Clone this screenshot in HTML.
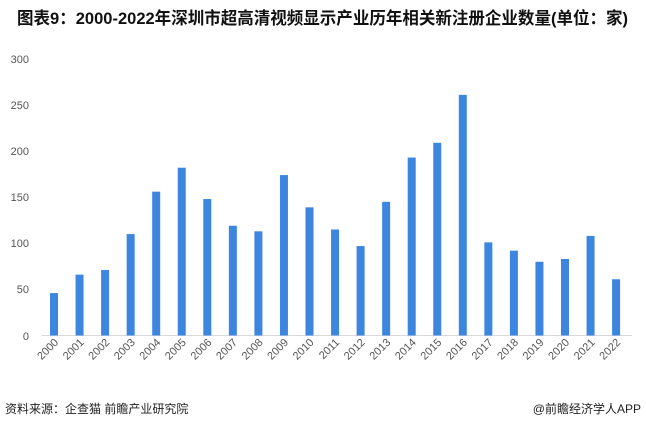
<!DOCTYPE html>
<html><head><meta charset="utf-8"><style>
body{margin:0;background:#fff;width:646px;height:425px;overflow:hidden;font-family:"Liberation Sans","Noto Sans CJK SC",sans-serif}
</style></head><body>
<svg width="646" height="425" xmlns="http://www.w3.org/2000/svg" font-family="Liberation Sans, Noto Sans CJK SC, sans-serif">
<text x="17" y="24" font-size="17" font-weight="bold" fill="#111" textLength="611" lengthAdjust="spacingAndGlyphs">图表9：2000-2022年深圳市超高清视频显示产业历年相关新注册企业数量(单位：家)</text>
<g font-size="11" fill="#555" text-anchor="end">
<text x="29" y="63">300</text><text x="29" y="109">250</text><text x="29" y="155">200</text>
<text x="29" y="201">150</text><text x="29" y="247">100</text><text x="29" y="293">50</text><text x="29" y="340">0</text>
</g>
<line x1="42" y1="335.5" x2="632" y2="335.5" stroke="#d9d9d9" stroke-width="1"/>
<g id="bars" fill="#3d86e0"></g>
<g id="lbl" font-size="11" fill="#555" text-anchor="end"></g>
<text x="5" y="413" font-size="12" fill="#222">资料来源：企查猫 前瞻产业研究院</text>
<text x="641" y="413" font-size="12" fill="#222" text-anchor="end">@前瞻经济学人APP</text>
</svg>
<script>
var v=[46,66,71,110,156,182,148,119,113,174,139,115,97,145,193,209,261,101,92,80,83,108,61];
var b=document.getElementById('bars'),l=document.getElementById('lbl'),ns='http://www.w3.org/2000/svg';
v.forEach(function(d,i){var cx=54+i*25.55,h=d*0.922;
var r=document.createElementNS(ns,'rect');r.setAttribute('x',cx-4);r.setAttribute('y',335.5-h);r.setAttribute('width',8);r.setAttribute('height',h);b.appendChild(r);
var t=document.createElementNS(ns,'text');t.setAttribute('transform','translate('+(cx+5)+',343) rotate(-45)');t.textContent=2000+i;l.appendChild(t);});
</script>
</body></html>
